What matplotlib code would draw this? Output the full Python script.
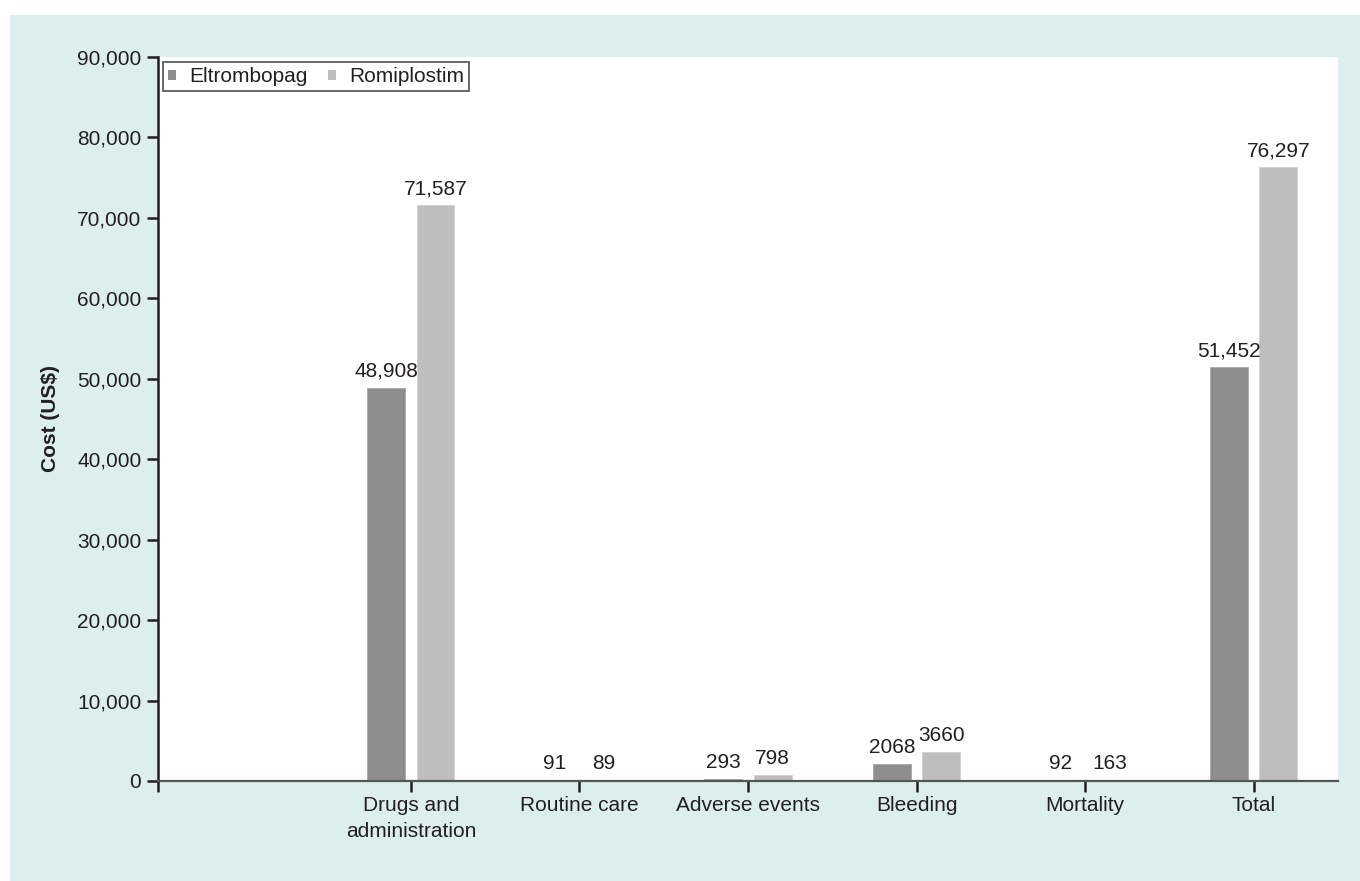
import numpy as np
import matplotlib.pyplot as plt
from matplotlib.patches import Patch, Rectangle

# datos
categorias = ['', 'Drugs and\nadministration', 'Routine care', 'Adverse events',
              'Bleeding', 'Mortality', 'Total']
eltrombopag = [np.nan, 48908, 91, 293, 2068, 92, 51452]
romiplostim = [np.nan, 71587, 89, 798, 3660, 163, 76297]
yticks = [0, 10000, 20000, 30000, 40000, 50000, 60000, 70000, 80000, 90000]

plt.rcParams['font.family'] = ['Liberation Sans', 'DejaVu Sans']
plt.rcParams['font.size'] = 15

c_dark = '#8e8e8e'
c_light = '#bebebe'
teal = '#dcefed'
txt = '#231f20'

fig = plt.figure(figsize=(13.6, 8.81), dpi=100)
fig.patch.set_facecolor('white')
# fondo teal (deja un margen blanco arriba e izquierda)
fig.patches.append(Rectangle((10/1360, 0), 1 - 10/1360, 1 - 15/881,
                             transform=fig.transFigure, facecolor=teal,
                             edgecolor='none', zorder=-10))

ax = fig.add_axes([158/1360, 1 - 781/881, (1338 - 158)/1360, (781 - 57)/881])
ax.set_facecolor('white')

x = np.arange(len(categorias))
w = 0.225
off = 0.146
b1 = ax.bar(x - off, eltrombopag, w, color=c_dark, edgecolor='#a8a8a8', linewidth=0.6)
b2 = ax.bar(x + off, romiplostim, w, color=c_light, edgecolor='#d2d2d2', linewidth=0.6)


def fmt(v):
    if np.isnan(v):
        return ''
    return f'{int(v):,}' if v >= 10000 else str(int(v))


ax.bar_label(b1, labels=[fmt(v) for v in eltrombopag], padding=5, fontsize=15, color=txt)
ax.bar_label(b2, labels=[fmt(v) for v in romiplostim], padding=5, fontsize=15, color=txt)

ax.set_xlim(-0.5, 6.5)
ax.set_ylim(0, 90000)
ax.set_yticks(yticks)
ax.set_yticklabels([f'{v:,}' for v in yticks], color=txt)

# ticks del eje x (uno en el borde izquierdo, sin etiqueta)
ax.set_xticks([-0.5] + list(x[1:]))
ax.set_xticklabels([''] + categorias[1:], color=txt, linespacing=1.45)

ax.tick_params(axis='y', direction='out', length=8, width=1.8, color=txt, pad=4)
ax.tick_params(axis='x', direction='out', length=8, width=1.8, color=txt, pad=3)

for s in ['top', 'right']:
    ax.spines[s].set_visible(False)
ax.spines['left'].set_color(txt)
ax.spines['left'].set_linewidth(1.8)
ax.spines['bottom'].set_color('#555555')
ax.spines['bottom'].set_linewidth(1.6)

ax.set_ylabel('Cost (US$)', fontweight='bold', fontsize=15, color=txt, labelpad=12)

handles = [Patch(facecolor=c_dark, edgecolor='none', label='Eltrombopag'),
           Patch(facecolor=c_light, edgecolor='none', label='Romiplostim')]
leg = ax.legend(handles=handles, loc='upper left', ncol=2, fontsize=15,
                bbox_to_anchor=(0.004, 0.993), frameon=True, fancybox=False,
                handlelength=0.4, handleheight=0.4, handletextpad=0.6,
                columnspacing=1.0, borderpad=0.25, borderaxespad=0.0)
leg.get_frame().set_edgecolor(txt)
leg.get_frame().set_linewidth(1.2)
for t in leg.get_texts():
    t.set_color(txt)

plt.savefig('out.png', dpi=100, facecolor=fig.get_facecolor())
